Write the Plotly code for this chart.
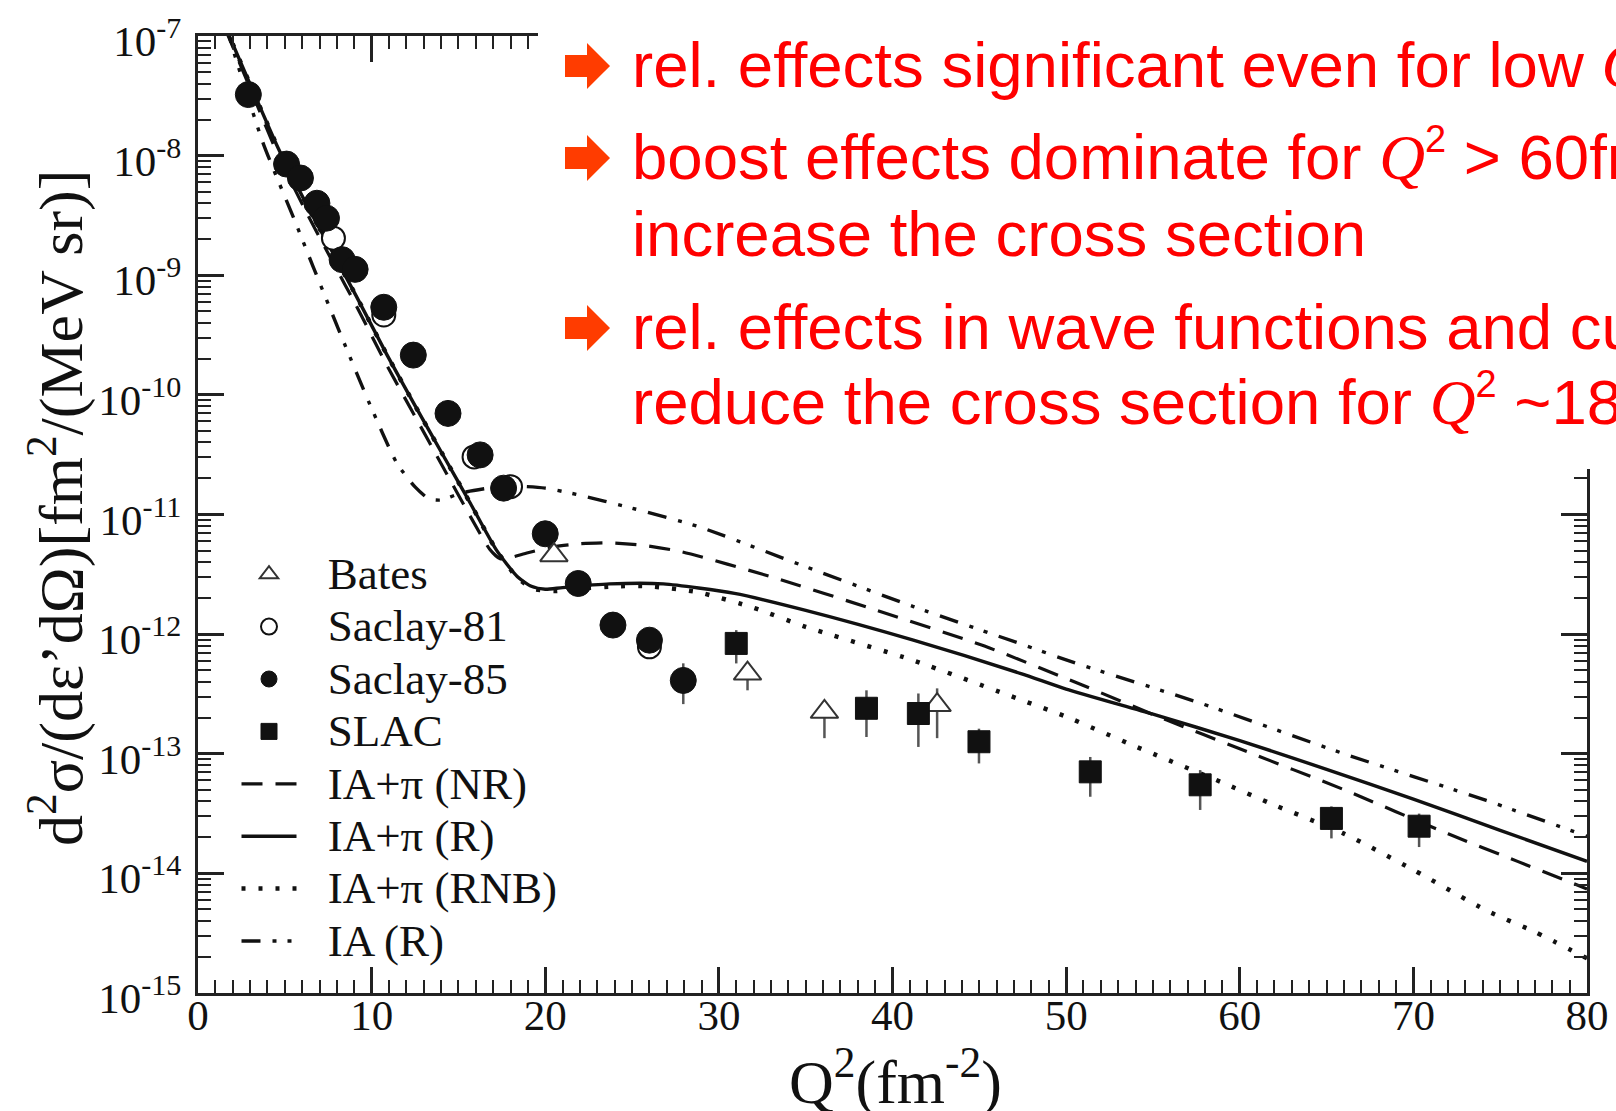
import plotly.graph_objects as go

# ---------------- data ----------------
# Saclay-85 (filled circles)
saclay85_q2 = [2.9, 5.1, 5.9, 6.85, 7.4, 8.3, 9.05, 10.7, 12.4, 14.4, 16.25, 17.6, 20.0, 21.9, 23.9, 26.0, 27.95]
saclay85_xs = [3.24e-8, 8.5e-9, 6.5e-9, 4.0e-9, 3.0e-9, 1.35e-9, 1.12e-9, 5.4e-10, 2.15e-10, 7.0e-11,
               3.15e-11, 1.66e-11, 6.9e-12, 2.65e-12, 1.19e-12, 8.9e-13, 4.1e-13]
saclay85_hi = [3.24e-8, 8.5e-9, 6.5e-9, 4.0e-9, 3.0e-9, 1.35e-9, 1.12e-9, 5.4e-10, 2.15e-10, 7.0e-11,
               3.15e-11, 1.66e-11, 6.9e-12, 2.65e-12, 1.19e-12, 8.9e-13, 5.7e-13]
saclay85_lo = [3.24e-8, 8.5e-9, 6.5e-9, 4.0e-9, 3.0e-9, 1.35e-9, 1.12e-9, 5.4e-10, 2.15e-10, 7.0e-11,
               3.15e-11, 1.66e-11, 6.9e-12, 2.65e-12, 1.19e-12, 8.9e-13, 2.6e-13]

# Saclay-81 (open circles)
saclay81_q2 = [7.8, 10.7, 15.9, 18.0, 26.0]
saclay81_xs = [2.04e-9, 4.65e-10, 3.03e-11, 1.71e-11, 7.83e-13]

# Bates (open triangles)
bates_q2 = [20.5, 31.65, 36.08, 42.57]
bates_xs = [4.57e-12, 4.68e-13, 2.24e-13, 2.55e-13]
bates_hi = [4.57e-12, 5.3e-13, 2.6e-13, 3.52e-13]
bates_lo = [4.57e-12, 3.39e-13, 1.35e-13, 1.35e-13]

# SLAC (filled squares)
slac_q2 = [31.0, 38.5, 41.49, 44.98, 51.39, 57.72, 65.28, 70.33]
slac_xs = [8.36e-13, 2.40e-13, 2.17e-13, 1.26e-13, 7.06e-14, 5.5e-14, 2.88e-14, 2.48e-14]
slac_hi = [1.08e-12, 3.39e-13, 3.19e-13, 1.62e-13, 9.4e-14, 7.3e-14, 3.63e-14, 3.16e-14]
slac_lo = [5.69e-13, 1.38e-13, 1.14e-13, 8.3e-14, 4.37e-14, 3.39e-14, 1.96e-14, 1.66e-14]

# IA+pi (R)  -- solid
r_q2 = [1.6, 2.9, 4.6, 6.3, 7.8, 9.1, 10.9, 12.5, 14.1, 15.7, 17.2, 18.4, 19.2, 20.0, 21.0, 23.7, 26.8,
        30.9, 35.0, 41.2, 47.4, 50.0, 55.0, 60.0, 65.0, 70.0, 75.0, 80.0]
r_xs = [1.17e-7, 4.27e-8, 1.17e-8, 3.80e-9, 1.51e-9, 6.76e-10, 2.14e-10, 8.13e-11, 3.16e-11, 1.23e-11,
        5.01e-12, 3.02e-12, 2.51e-12, 2.37e-12, 2.45e-12, 2.63e-12, 2.63e-12,
        2.19e-12, 1.58e-12, 8.91e-13, 4.68e-13, 3.47e-13, 2.14e-13, 1.29e-13, 7.41e-14, 4.17e-14, 2.29e-14, 1.26e-14]

# IA+pi (NR) -- dashed
nr_q2 = [1.6, 2.9, 4.6, 6.3, 7.8, 9.1, 10.9, 12.5, 14.1, 15.7, 16.8, 17.4, 18.0, 19.0, 20.5, 22.0, 23.7,
         25.5, 27.8, 33.0, 39.1, 45.3, 50.5, 55.8, 60.0, 66.0, 72.0, 76.0, 80.0]
nr_xs = [1.12e-7, 3.98e-8, 1.02e-8, 3.24e-9, 1.26e-9, 5.62e-10, 1.74e-10, 6.61e-11, 2.51e-11, 9.55e-12,
         5.13e-12, 4.27e-12, 4.37e-12, 4.79e-12, 5.37e-12, 5.69e-12, 5.79e-12,
         5.56e-12, 4.90e-12, 3.02e-12, 1.58e-12, 7.94e-13, 3.98e-13, 1.91e-13, 1.10e-13, 5.01e-14, 2.14e-14,
         1.26e-14, 7.41e-15]

# IA+pi (RNB) -- dotted
rnb_q2 = [1.6, 2.9, 4.6, 6.3, 7.8, 9.1, 10.9, 12.5, 14.1, 15.7, 17.2, 18.4, 19.3, 20.5, 22.0, 24.0, 26.0,
          28.8, 32.0, 35.0, 41.2, 47.4, 50.0, 54.0, 58.9, 62.0, 66.0, 70.0, 74.2, 77.0, 80.0]
rnb_xs = [1.17e-7, 4.27e-8, 1.17e-8, 3.80e-9, 1.51e-9, 6.76e-10, 2.14e-10, 8.13e-11, 3.16e-11, 1.23e-11,
          5.01e-12, 2.95e-12, 2.40e-12, 2.29e-12, 2.40e-12, 2.51e-12, 2.51e-12,
          2.24e-12, 1.66e-12, 1.15e-12, 6.03e-13, 2.82e-13, 2.04e-13, 1.15e-13, 5.82e-14, 3.72e-14, 2.15e-14,
          1.07e-14, 4.90e-15, 3.24e-15, 1.95e-15]

# IA (R) -- dash-dot-dot
ia_q2 = [1.6, 2.03, 3.76, 5.59, 6.64, 8.4, 9.9, 11.45, 12.5, 13.3, 14.0, 14.8, 15.5, 17.0, 18.5, 20.0, 22.0,
         24.7, 28.8, 35.0, 41.2, 47.35, 50.3, 57.8, 66.0, 74.2, 80.0]
ia_xs = [1.26e-7, 7.59e-8, 1.26e-8, 2.82e-9, 1.17e-9, 2.75e-10, 8.32e-11, 2.69e-11, 1.70e-11, 1.35e-11,
         1.32e-11, 1.45e-11, 1.55e-11, 1.68e-11, 1.72e-11, 1.66e-11, 1.45e-11,
         1.16e-11, 7.94e-12, 3.66e-12, 1.70e-12, 8.32e-13, 5.89e-13, 2.63e-13, 1.0e-13, 4.07e-14, 2.04e-14]

x_ticks = [0, 10, 20, 30, 40, 50, 60, 70, 80]
y_exponents = [-15, -14, -13, -12, -11, -10, -9, -8, -7]
y_ticks = [10.0 ** e for e in y_exponents]
y_ticktext = ["10<sup>%d</sup>" % e for e in y_exponents]
y_minor = [k * 10.0 ** e for e in y_exponents[:-1] for k in range(2, 10)]

legend_names = ["IA+π (NR)", "IA+π (R)", "IA+π (RNB)", "IA (R)", "Saclay-81", "Saclay-85", "Bates", "SLAC"]

QSQ = "<span style='font-family:Liberation Serif'><i>Q</i></span><sup><span style='font-size:38px'>2</span></sup>"
MINUS2 = "<sup><span style='font-size:38px'>-2</span></sup>"
bullet_lines = [
    "rel. effects significant even for low " + QSQ,
    "boost effects dominate for " + QSQ + " &gt; 60fm" + MINUS2 + " and",
    "increase the cross section",
    "rel. effects in wave functions and currents",
    "reduce the cross section for " + QSQ + " ~18fm" + MINUS2,
]

# ---------------- layout helpers (pixel -> paper) ----------------
W, H = 1616, 1111
ML, MR, MT, MB = 198, 29, 36, 118
PW, PH = W - ML - MR, H - MT - MB


def px(v):
    return (v - ML) / PW


def py(v):
    return (H - MB - v) / PH


def lname(s):
    return "<span style='font-size:45px'>\u2002\u200a" + s + "</span>"


INK = "#111111"
SERIF = "Liberation Serif"

fig = go.Figure()

line_specs = [
    (nr_q2, nr_xs, dict(color=INK, width=3.2, dash="21px,13px"), 5),
    (r_q2, r_xs, dict(color=INK, width=3.4), 6),
    (rnb_q2, rnb_xs, dict(color=INK, width=4.5, dash="4px,13px"), 7),
    (ia_q2, ia_xs, dict(color=INK, width=3.4, dash="19px,12px,4px,11px,4px,12px"), 8),
]
for (xq, yv, ln, rank), nm in zip(line_specs, legend_names[:4]):
    fig.add_trace(go.Scatter(x=xq, y=yv, mode="lines", name=lname(nm),
                             line=dict(shape="spline", smoothing=0.6, **ln), legendrank=rank))


def err(vals, hi, lo):
    return dict(type="data", symmetric=False,
                array=[h - v for v, h in zip(vals, hi)],
                arrayminus=[v - l for v, l in zip(vals, lo)],
                color="#555555", thickness=2.5, width=0)


fig.add_trace(go.Scatter(x=saclay81_q2, y=saclay81_xs, mode="markers", name=lname(legend_names[4]), legendrank=2,
                         marker=dict(symbol="circle", size=23, color="white", line=dict(color=INK, width=2))))
fig.add_trace(go.Scatter(x=saclay85_q2, y=saclay85_xs, mode="markers", name=lname(legend_names[5]), legendrank=3,
                         error_y=err(saclay85_xs, saclay85_hi, saclay85_lo),
                         marker=dict(symbol="circle", size=26, color=INK, line=dict(color=INK, width=1))))
fig.add_trace(go.Scatter(x=bates_q2, y=bates_xs, mode="markers", name=lname(legend_names[6]), legendrank=1,
                         error_y=err(bates_xs, bates_hi, bates_lo),
                         marker=dict(symbol="triangle-up", size=24, color="white", line=dict(color="#333333", width=2))))
fig.add_trace(go.Scatter(x=slac_q2, y=slac_xs, mode="markers", name=lname(legend_names[7]), legendrank=4,
                         error_y=err(slac_xs, slac_hi, slac_lo),
                         marker=dict(symbol="square", size=22, color=INK, line=dict(color=INK, width=1))))

axis_common = dict(
    showline=True, linewidth=3, linecolor="#222222", mirror="ticks",
    ticks="inside", ticklen=26, tickwidth=2.5, tickcolor="#222222",
    showgrid=False, zeroline=False, automargin=False,
    tickfont=dict(family=SERIF, size=43, color=INK),
)

fig.update_xaxes(range=[0, 80], tickmode="array", tickvals=x_ticks, ticklabelstandoff=-18,
                 minor=dict(ticks="inside", dtick=1, ticklen=13, tickwidth=2, tickcolor="#222222", showgrid=False),
                 **axis_common)
fig.update_yaxes(type="log", range=[-15, -7], tickmode="array", tickvals=y_ticks, ticktext=y_ticktext,
                 minor=dict(ticks="inside", tickmode="array", tickvals=y_minor, ticklen=13, tickwidth=2,
                            tickcolor="#222222", showgrid=False),
                 ticklabelshift=5, ticklabelstandoff=5, ticklabeloverflow="allow",
                 **axis_common)

# white panel of the slide overlay + bullet arrows
shapes = [dict(type="rect", xref="paper", yref="paper", x0=px(538), x1=px(1625), y0=py(469), y1=py(-10),
               fillcolor="white", line=dict(width=0), layer="above")]
for yc in (66, 158, 328):
    pts = [(565, yc - 11), (587, yc - 11), (587, yc - 23), (610, yc), (587, yc + 23), (587, yc + 11), (565, yc + 11)]
    path = "M " + " L ".join("%.5f,%.5f" % (px(a), py(b)) for a, b in pts) + " Z"
    shapes.append(dict(type="path", xref="paper", yref="paper", path=path, fillcolor="#FF3C00",
                       line=dict(width=0), layer="above"))

annotations = []
baselines = [88.5, 180.5, 257.0, 349.5, 425.5]
for txt, bl in zip(bullet_lines, baselines):
    annotations.append(dict(text=txt, xref="paper", yref="paper", x=px(630), y=py(bl + 14.5),
                            xanchor="left", yanchor="bottom", showarrow=False, align="left",
                            font=dict(family="Liberation Sans", size=63.5, color="#FF0000")))

annotations.append(dict(text="d<sup>2</sup>σ/(dε’dΩ)[fm<sup>2</sup>/(MeV sr)]", textangle=-90,
                        xref="paper", yref="paper", x=px(56), y=py(508), xanchor="center", yanchor="middle",
                        showarrow=False, font=dict(family=SERIF, size=62, color=INK)))
annotations.append(dict(text="Q<sup>2</sup>(fm<sup>-2</sup>)", xref="paper", yref="paper",
                        x=px(895), y=py(1119), xanchor="center", yanchor="bottom",
                        showarrow=False, font=dict(family=SERIF, size=62, color=INK)))

fig.update_layout(
    width=W, height=H, autosize=False,
    margin=dict(l=ML, r=MR, t=MT, b=MB, pad=0, autoexpand=False),
    paper_bgcolor="white", plot_bgcolor="white",
    showlegend=True,
    legend=dict(x=px(236.5), y=py(543), xanchor="left", yanchor="top",
                font=dict(family=SERIF, size=38, color=INK), bgcolor="rgba(0,0,0,0)",
                itemwidth=55, tracegroupgap=0, itemsizing="trace"),
    shapes=shapes, annotations=annotations,
)

fig.write_html(
    "out.html",
    config={"displayModeBar": False},
    post_script="document.body.style.margin='0';document.body.style.padding='0';"
                "document.documentElement.style.overflow='hidden';",
)
